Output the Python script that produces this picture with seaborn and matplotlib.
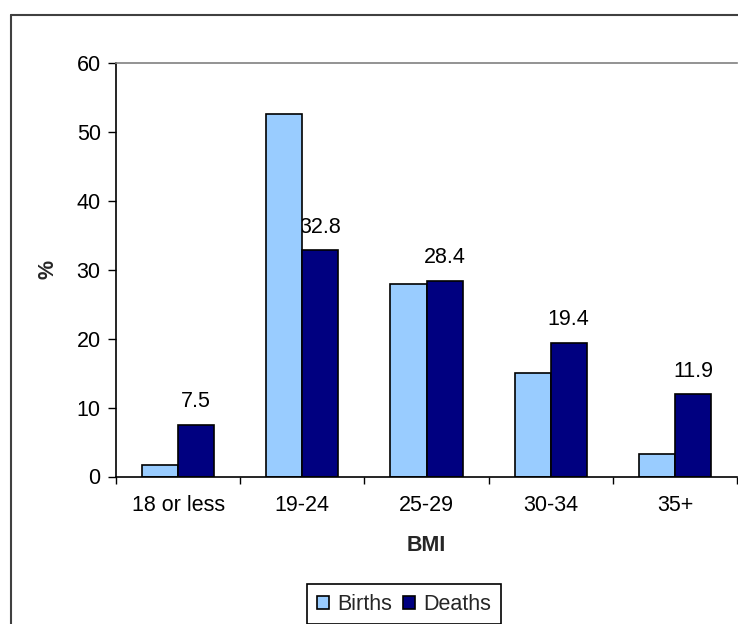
import matplotlib
matplotlib.use("Agg")
import matplotlib.pyplot as plt
from matplotlib.patches import Patch
from matplotlib.lines import Line2D
import seaborn as sns
import pandas as pd

# BMI groups and the share (%) of births and deaths in each
bmi_groups = ["18 or less", "19-24", "25-29", "30-34", "35+"]
births = [1.6, 52.6, 27.9, 15.0, 3.3]
deaths = [7.5, 32.8, 28.4, 19.4, 11.9]
series = ["Births", "Deaths"]
colors = {"Births": "#99CCFF", "Deaths": "#000080"}

df = pd.DataFrame({
    "BMI": bmi_groups * 2,
    "pct": births + deaths,
    "series": ["Births"] * len(bmi_groups) + ["Deaths"] * len(bmi_groups),
})

sns.set_theme(style="white")
plt.rcParams["font.family"] = ["Liberation Sans", "DejaVu Sans"]

FS = 15.5
W, H = 738, 624
fig = plt.figure(figsize=(W / 100, H / 100), dpi=100)
ax = fig.add_axes([116 / W, 1 - 476.5 / H, (737 - 116) / W, (476.5 - 63) / H])

sns.barplot(data=df, x="BMI", y="pct", hue="series", order=bmi_groups,
            hue_order=series, palette=colors, width=0.58,
            edgecolor="black", linewidth=1.2, saturation=1,
            legend=False, ax=ax, zorder=2)

# value labels above the deaths bars, drawn beneath the bars
deaths_bars = ax.containers[1]
labels = ax.bar_label(deaths_bars, fmt="%.1f", padding=9, fontsize=FS,
                      color="black")
for t in labels:
    t.set_zorder(1)

ax.set_xlim(-0.5, len(bmi_groups) - 0.5)
ax.set_ylim(0, 60)
ax.set_yticks(range(0, 61, 10))
ax.set_xticks(range(len(bmi_groups)))
ax.set_xticklabels(bmi_groups)
ax.set_xticks([i - 0.5 for i in range(len(bmi_groups) + 1)], minor=True)
ax.tick_params(axis="x", which="major", length=0, pad=13, labelsize=FS,
               colors="black")
ax.tick_params(axis="x", which="minor", length=5, width=1, color="black",
               direction="out", bottom=True)
ax.tick_params(axis="y", length=6, width=1, color="black", direction="out",
               left=True, pad=5, labelsize=FS, labelcolor="black")

ax.set_xlabel("BMI", fontsize=FS, fontweight="bold", labelpad=14)
ax.set_ylabel("%", fontsize=FS, fontweight="bold", labelpad=13)

for side in ["left", "bottom"]:
    ax.spines[side].set_color("black")
    ax.spines[side].set_linewidth(1.2)
ax.spines["top"].set_color("#808080")
ax.spines["top"].set_linewidth(1.2)
ax.spines["right"].set_visible(False)

# legend below the chart
handles = [Patch(facecolor=colors[s], edgecolor="black", linewidth=1.2, label=s)
           for s in series]
leg = fig.legend(handles=handles, loc="upper left",
                 bbox_to_anchor=(307 / W, 1 - 584 / H), ncol=2,
                 fontsize=FS, frameon=True, fancybox=False,
                 handlelength=0.55, handleheight=0.55, handletextpad=0.4,
                 columnspacing=0.5, borderpad=0.45, borderaxespad=0)
leg.get_frame().set_edgecolor("black")
leg.get_frame().set_linewidth(1.2)
leg.get_frame().set_alpha(1)

# outer chart-area border
fig.add_artist(Line2D([11 / W, 11 / W], [1 - 15 / H, 0], transform=fig.transFigure,
                      color="#404040", linewidth=1.5))
fig.add_artist(Line2D([11 / W, 1], [1 - 15 / H, 1 - 15 / H],
                      transform=fig.transFigure, color="#404040", linewidth=1.5))

fig.savefig("out.png", dpi=100)
